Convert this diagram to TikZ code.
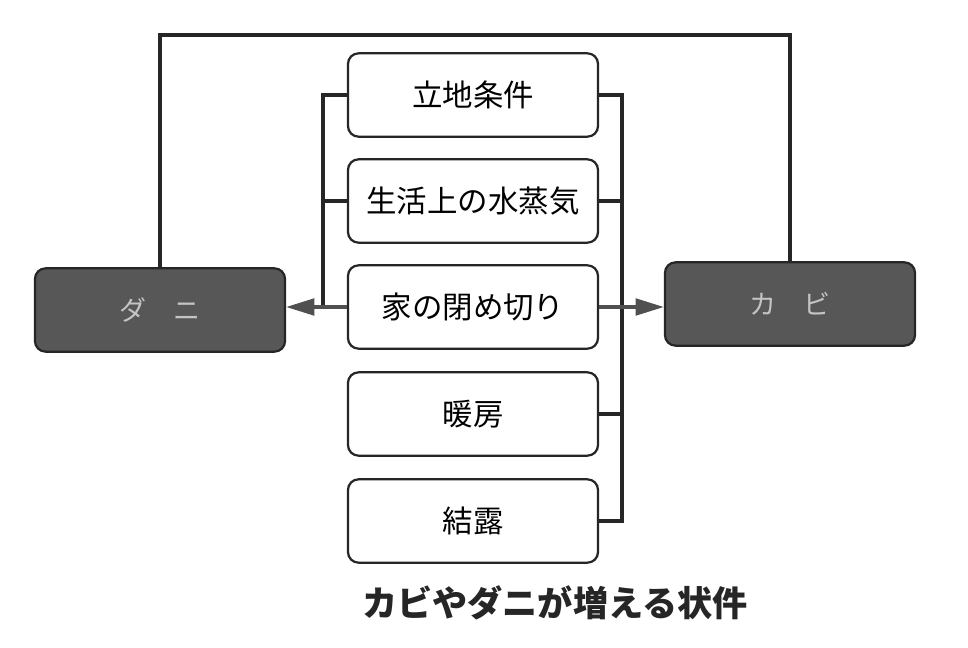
\documentclass[tikz,border=0pt]{standalone}
\usepackage{fontspec}
\newfontfamily\cjk{Noto Sans CJK JP}
\usetikzlibrary{arrows.meta, positioning, calc}
\definecolor{ink}{HTML}{262626}
\definecolor{slate}{HTML}{575757}
\definecolor{pale}{HTML}{C4C4C4}
\definecolor{tipgray}{HTML}{505050}
\tikzset{
  cond/.style={rectangle, rounded corners=9pt, draw=ink, line width=1.9pt, fill=white,
    font=\cjk\fontsize{26}{30}\selectfont, minimum width=7.5cm, minimum height=2.5cm,
    align=center, inner sep=2pt},
  pest/.style={rectangle, rounded corners=9pt, draw=ink, line width=1.9pt, fill=slate,
    text=pale, font=\cjk\fontsize{23}{27}\selectfont, minimum width=7.5cm, minimum height=2.5cm,
    align=center, inner sep=2pt},
  bus/.style={draw=ink, line width=2.8pt},
  ar/.style={draw=tipgray, line width=2.8pt, -{Triangle[length=0.85cm, width=0.5cm]}},
  captxt/.style={font=\cjk\bfseries\fontsize{30}{34}\selectfont, text=ink},
}

\begin{document}
\begin{tikzpicture}[x=0.03cm, y=-0.03cm]
\useasboundingbox (0,0) rectangle (968,648);

\node[pest] (dani) at (160,310) {ダ　ニ};
\node[pest] (kabi) at (790,304) {カ　ビ};

\node[cond] (site)  at (473,95)  {立地条件};
\node[cond] (steam) at (473,201) {生活上の水蒸気};
\node[cond] (shut)  at (473,307) {家の閉め切り};
\node[cond] (heat)  at (473,414) {暖房};
\node[cond] (dew)   at (473,521) {結露};

\node[captxt] (title) at (555,603) {カビやダニが増える状件};

% left bus
\coordinate (lbus) at (323,0);
\draw[bus] (site.west) -- (site.west -| lbus) -- (shut.west -| lbus);
\draw[bus] (steam.west) -- (steam.west -| lbus);
% right bus
\coordinate (rbus) at (622,0);
\draw[bus] (site.east) -- (site.east -| rbus) -- (dew.east -| rbus) -- (dew.east);
\foreach \n in {steam, heat}
  \draw[bus] (\n.east) -- (\n.east -| rbus);

% arrows to the pests
\draw[ar] (shut.west) -- (shut.west -| dani.east);
\draw[ar] (shut.east) -- (shut.east -| kabi.west);

% top link
\coordinate (topbar) at (0,35);
\draw[bus] (dani.north) -- (dani.north |- topbar) -- (kabi.north |- topbar) -- (kabi.north);

\end{tikzpicture}
\end{document}
